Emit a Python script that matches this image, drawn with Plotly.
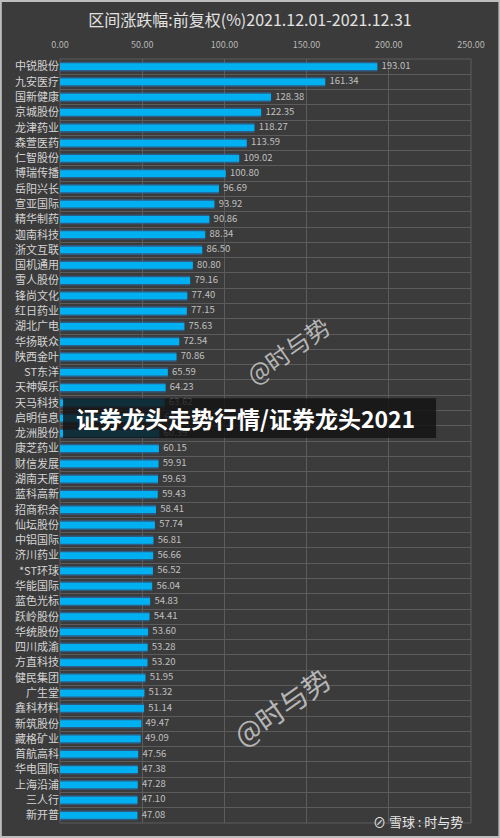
import plotly.graph_objects as go

# data
names = ['中锐股份', '九安医疗', '国新健康', '京城股份', '龙津药业', '森萱医药', '仁智股份',
         '博瑞传播', '岳阳兴长', '宣亚国际', '精华制药', '迦南科技', '浙文互联', '国机通用',
         '雪人股份', '锋尚文化', '红日药业', '湖北广电', '华扬联众', '陕西金叶', 'ST东洋',
         '天神娱乐', '天马科技', '启明信息', '龙洲股份', '康芝药业', '财信发展', '湖南天雁',
         '蓝科高新', '招商积余', '仙坛股份', '中铝国际', '济川药业', '*ST环球', '华能国际',
         '蓝色光标', '跃岭股份', '华统股份', '四川成渝', '方直科技', '健民集团', '广生堂',
         '鑫科材料', '新筑股份', '藏格矿业', '首航高科', '华电国际', '上海沿浦', '三人行', '新开普']
values = [193.01, 161.34, 128.38, 122.35, 118.27, 113.59, 109.02,
          100.80, 96.69, 93.92, 90.86, 88.34, 86.50, 80.80,
          79.16, 77.40, 77.15, 75.63, 72.54, 70.86, 65.59,
          64.23, 63.62, 61.05, 60.39, 60.15, 59.91, 59.63,
          59.43, 58.41, 57.74, 56.81, 56.66, 56.52, 56.04,
          54.83, 54.41, 53.60, 53.28, 53.20, 51.95, 51.32,
          51.14, 49.47, 49.09, 47.56, 47.38, 47.28, 47.10, 47.08]
x_ticks = [0, 50, 100, 150, 200, 250]

title = '区间涨跌幅:前复权(%)2021.12.01-2021.12.31'
banner = '证券龙头走势行情/证券龙头2021'

font = 'Noto Sans CJK SC'
grid = '#5c5c5c'

fig = go.Figure()

# glow behind the bars
fig.add_trace(go.Bar(
    y=names, x=values, orientation='h', width=0.64,
    marker_color='rgba(40,115,180,0.6)', marker_line_width=0,
    hoverinfo='skip', showlegend=False))

fig.add_trace(go.Bar(
    y=names, x=values, orientation='h', width=0.44,
    marker_color='#00b0f0', marker_line_width=0,
    showlegend=False))

# value labels
fig.add_trace(go.Scatter(
    y=names, x=values, mode='text',
    text=['\u00a0\u00a0%.2f' % v for v in values], textposition='middle right',
    textfont=dict(color='#c0c0c0', size=9.5, family=font),
    cliponaxis=False, showlegend=False, hoverinfo='skip'))

fig.update_layout(
    width=500, height=838,
    barmode='overlay',
    paper_bgcolor='#3b3b3b', plot_bgcolor='#3b3b3b',
    margin=dict(l=60, r=29, t=59, b=15),
    font=dict(family=font, color='#cfcfcf'),
    title=dict(text=title, x=0.5, xanchor='center', y=0.976, yanchor='middle',
               font=dict(size=16, color='#e2e2e2', family=font)),
    xaxis=dict(side='top', range=[0, 250], tickvals=x_ticks,
               ticktext=['%.2f' % t for t in x_ticks],
               tickfont=dict(size=9, color='#b8b8b8'),
               showgrid=True, gridcolor=grid, gridwidth=1, automargin=False,
               zeroline=False, showline=False, ticks='', ticklabelstandoff=8),
    yaxis=dict(range=[len(names) - 0.5, -0.5], type='category', tickson='boundaries',
               showgrid=True, gridcolor=grid, gridwidth=1, automargin=False,
               tickfont=dict(size=11, color='#d4d4d4'), ticks='',
               showline=False, zeroline=False),
)

# plot frame
fig.add_shape(type='rect', xref='paper', yref='paper', x0=0, x1=1, y0=0, y1=1,
              line=dict(color=grid, width=1), layer='below')
# outer border
fig.add_shape(type='rect', xref='paper', yref='paper', x0=-0.144, x1=1.069, y0=-0.0183, y1=1.076,
              line=dict(color='#bdbdbd', width=2))

# banner overlay
fig.add_shape(type='rect', xref='paper', yref='paper', x0=0.0073, x1=0.915, y0=0.504, y1=0.556,
              fillcolor='rgba(18,18,18,0.82)', line_width=0)
fig.add_annotation(text='<b>' + banner + '</b>', xref='paper', yref='paper',
                   x=0.034, y=0.530, xanchor='left', yanchor='middle', showarrow=False,
                   font=dict(size=23, color='#ffffff', family=font))

# watermarks
fig.add_annotation(text='@时与势', xref='paper', yref='paper', x=0.68, y=0.678,
                   showarrow=False, textangle=-35,
                   font=dict(size=24, color='rgba(215,215,215,0.8)', family=font))
fig.add_annotation(text='@时与势', xref='paper', yref='paper', x=0.685, y=0.087,
                   showarrow=False, textangle=-35,
                   font=dict(size=28, color='rgba(215,215,215,0.8)', family=font))
fig.add_annotation(text='⊘ 雪球 : 时与势', xref='paper', yref='paper', x=0.985, y=0.0015,
                   xanchor='right', yanchor='middle', showarrow=False,
                   font=dict(size=13, color='#e6e6e6', family=font))

fig.write_html('out.html', config={'displayModeBar': False},
               post_script="document.body.style.margin='0';")
